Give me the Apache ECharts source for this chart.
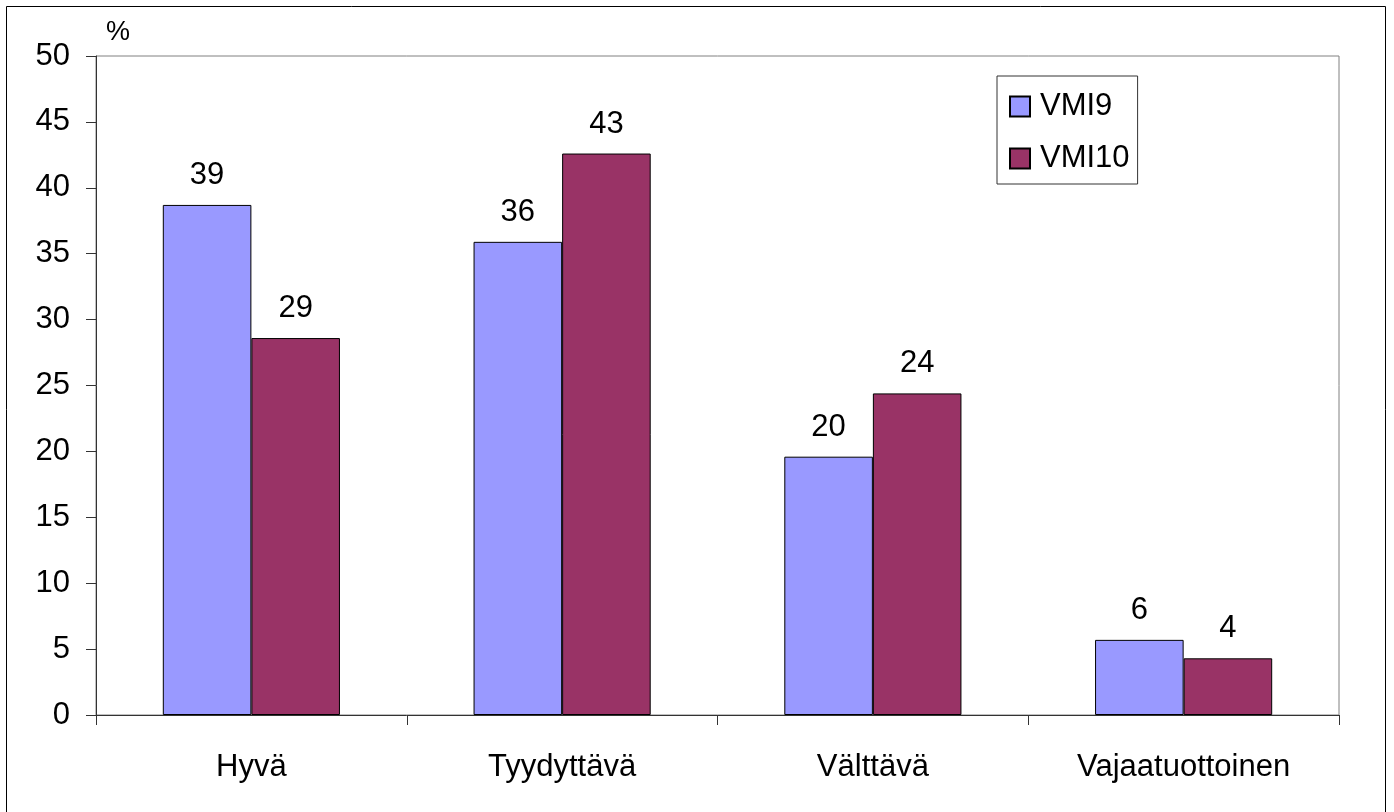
<!DOCTYPE html>
<html>
<head>
<meta charset="utf-8">
<script src="https://cdn.jsdelivr.net/npm/echarts@6/dist/echarts.min.js"></script>
<style>
  html, body { margin: 0; padding: 0; background: #fff; }
  #chart { width: 1394px; height: 812px; }
</style>
</head>
<body>
<div id="chart"></div>
<script>
// luokat ja arvot (%)
var categories = ['Hyvä', 'Tyydyttävä', 'Välttävä', 'Vajaatuottoinen'];
var vmi9 = [38.7, 35.9, 19.6, 5.7];
var vmi10 = [28.6, 42.6, 24.4, 4.3];
var seriesNames = ['VMI9', 'VMI10'];

var font = 'Liberation Sans, Arial, sans-serif';

var myChart = echarts.init(document.getElementById('chart'));

var labelStyle = {
    show: true,
    position: 'top',
    distance: 14,
    color: '#000',
    fontSize: 31,
    fontFamily: font,
    formatter: function (p) { return Math.round(p.value); }
};

var option = {
    animation: false,
    textStyle: { fontFamily: font },
    grid: {
        left: 96, top: 56, right: 55, bottom: 97,
        show: true, borderColor: '#808080', borderWidth: 1
    },
    legend: {
        orient: 'vertical',
        left: 997, top: 76,
        padding: [15, 8, 10, 12],
        itemGap: 21,
        itemWidth: 20, itemHeight: 20,
        borderColor: '#333', borderWidth: 1,
        icon: 'rect',
        textStyle: { fontSize: 31, color: '#000', fontFamily: font, padding: [0, 0, 0, 5] },
        data: seriesNames
    },
    xAxis: {
        type: 'category',
        data: categories,
        axisLine: { lineStyle: { color: '#333', width: 1 } },
        axisTick: { show: true, length: 10, lineStyle: { color: '#333' } },
        axisLabel: { color: '#000', fontSize: 31, margin: 37, fontFamily: font },
        splitLine: { show: false }
    },
    yAxis: {
        type: 'value',
        min: 0, max: 50, interval: 5,
        name: '%',
        nameLocation: 'end',
        nameGap: 10,
        nameTextStyle: { color: '#000', fontSize: 27, fontFamily: font, align: 'left', verticalAlign: 'bottom', padding: [0, 0, 0, 10] },
        axisLine: { show: true, lineStyle: { color: '#333', width: 1 } },
        axisTick: { show: true, length: 10, lineStyle: { color: '#333' } },
        axisLabel: { color: '#000', fontSize: 31, margin: 26, fontFamily: font },
        splitLine: { show: false }
    },
    series: [
        {
            name: seriesNames[0], type: 'bar', data: vmi9,
            barGap: '0%', barCategoryGap: '43%',
            itemStyle: { color: '#9999FF', borderColor: '#000', borderWidth: 1 },
            label: labelStyle
        },
        {
            name: seriesNames[1], type: 'bar', data: vmi10,
            itemStyle: { color: '#993366', borderColor: '#000', borderWidth: 1 },
            label: labelStyle
        }
    ],
    graphic: [{
        type: 'rect',
        shape: { x: 6.5, y: 6.5, width: 1379, height: 810 },
        style: { fill: 'none', stroke: '#000', lineWidth: 1 },
        silent: true
    }]
};

myChart.setOption(option, true);
</script>
</body>
</html>
